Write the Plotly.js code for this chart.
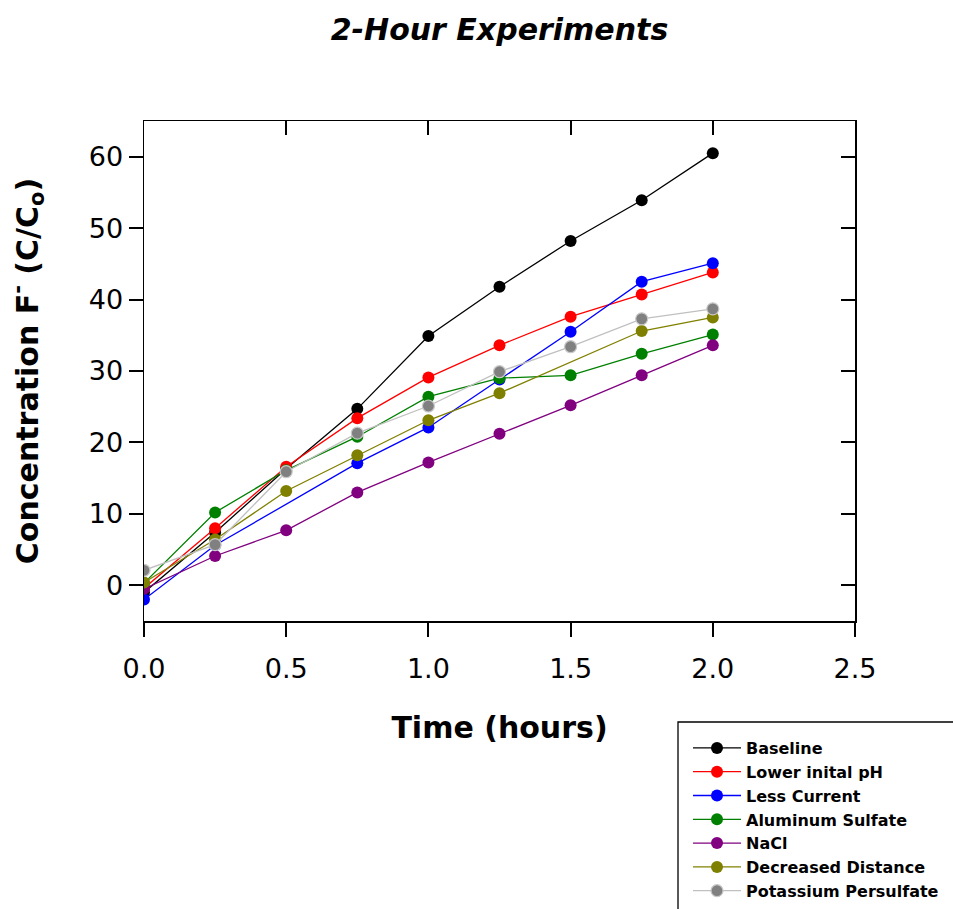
<!DOCTYPE html>
<html>
<head>
<meta charset="utf-8">
<script src="https://cdn.plot.ly/plotly-3.0.1.min.js"></script>
<style>html,body{margin:0;padding:0;background:#fff;}#chart{width:953px;height:909px;}</style>
</head>
<body>
<div id="chart"></div>
<script>
const times = [0, 0.25, 0.5, 0.75, 1.0, 1.25, 1.5, 1.75, 2.0];
const baseline = [-1.0, 7.4, 16.3, 24.7, 34.9, 41.8, 48.2, 53.9, 60.5];
const lowerPH = [-0.4, 8.0, 16.6, 23.4, 29.1, 33.6, 37.6, 40.7, 43.8];
const lessCurrent = [-2.0, 5.6, null, 17.1, 22.1, 28.8, 35.5, 42.5, 45.1];
const aluminumSulfate = [0.3, 10.2, 16.1, 20.8, 26.4, 29.0, 29.4, 32.4, 35.1];
const nacl = [-0.5, 4.1, 7.7, 13.0, 17.2, 21.2, 25.2, 29.4, 33.6];
const decreasedDistance = [0.4, 6.4, 13.2, 18.2, 23.1, 26.9, null, 35.6, 37.5];
const potassiumPersulfate = [2.1, 5.7, 15.9, 21.3, 25.1, 29.9, 33.4, 37.3, 38.7];

const seriesNames = ["Baseline", "Lower inital pH", "Less Current", "Aluminum Sulfate", "NaCl", "Decreased Distance", "Potassium Persulfate"];
const seriesValues = [baseline, lowerPH, lessCurrent, aluminumSulfate, nacl, decreasedDistance, potassiumPersulfate];
const lineColors = ["#000000", "#ff0000", "#0000ff", "#008000", "#800080", "#808000", "#c0c0c0"];
const markerColors = ["#000000", "#ff0000", "#0000ff", "#008000", "#800080", "#808000", "#808080"];

const yTicks = [0, 10, 20, 30, 40, 50, 60];
const xTicks = [0, 0.5, 1.0, 1.5, 2.0, 2.5];
const xTickText = ["0.0", "0.5", "1.0", "1.5", "2.0", "2.5"];

const FONT = "DejaVu Sans, Liberation Sans, Arial, sans-serif";

const traces = seriesValues.map((vals, i) => ({
  x: times, y: vals, name: seriesNames[i], type: "scatter", mode: "lines+markers",
  connectgaps: true,
  line: {color: lineColors[i], width: 1.3},
  marker: {color: markerColors[i], size: 12,
    line: {color: i === 6 ? "#c8c8c8" : markerColors[i], width: i === 6 ? 1.2 : 0}}
}));
traces.push({x: [], y: [], xaxis: "x2", yaxis: "y2", showlegend: false, hoverinfo: "skip", type: "scatter", mode: "markers"});

const layout = {
  width: 953, height: 909,
  paper_bgcolor: "#ffffff", plot_bgcolor: "#ffffff",
  margin: {l: 144, r: 98, t: 121, b: 288, autoexpand: false},
  font: {family: FONT, color: "#000"},
  title: {text: "<b><i>2-Hour Experiments</i></b>", font: {family: FONT, size: 30, color: "#000"},
    x: 0.5, xref: "paper", xanchor: "center", y: 1 - 29/909, yref: "container", yanchor: "middle"},
  xaxis: {range: [0, 2.5], tickvals: xTicks, ticktext: xTickText, ticks: "outside", ticklen: 14, tickwidth: 2,
    tickcolor: "#000", showline: true, linecolor: "#000", linewidth: 1.5, showgrid: false, zeroline: false,
    tickfont: {family: FONT, size: 27, color: "#000"}, automargin: false, ticklabelstandoff: 9,
    title: {text: "<b>Time (hours)</b>", font: {family: FONT, size: 30, color: "#000"}, standoff: 34}},
  yaxis: {range: [-5, 65], tickvals: yTicks, ticks: "outside", ticklen: 14, tickwidth: 2,
    tickcolor: "#000", showline: true, linecolor: "#000", linewidth: 1.5, showgrid: false, zeroline: false,
    tickfont: {family: FONT, size: 27, color: "#000"}, automargin: false,
    title: {text: "<b>Concentration F<sup>-</sup> (C/C<sub>o</sub>)</b>", font: {family: FONT, size: 30, color: "#000"}, standoff: 41}},
  xaxis2: {overlaying: "x", side: "top", anchor: "y", range: [0, 2.5], tickvals: xTicks, ticks: "inside", ticklen: 14, tickwidth: 2,
    tickcolor: "#000", showline: true, linecolor: "#000", linewidth: 1.5, showgrid: false, zeroline: false, showticklabels: false},
  yaxis2: {overlaying: "y", side: "right", anchor: "x", range: [-5, 65], tickvals: yTicks, ticks: "inside", ticklen: 14, tickwidth: 2,
    tickcolor: "#000", showline: true, linecolor: "#000", linewidth: 1.5, showgrid: false, zeroline: false, showticklabels: false},
  showlegend: true,
  legend: {xref: "container", yref: "container", x: 688/953, y: 1 - 731/909, xanchor: "left", yanchor: "top",
    bgcolor: "rgba(0,0,0,0)", borderwidth: 0, font: {family: FONT, size: 16, color: "#000", weight: "bold"},
    itemwidth: 48, tracegroupgap: 0},
  shapes: [{type: "rect", xref: "paper", yref: "paper", x0: (678-144)/711, x1: 1.5, y0: (621-722)/500, y1: -1.0,
    line: {color: "#000", width: 1.3}, fillcolor: "rgba(0,0,0,0)", layer: "below"}]
};

Plotly.newPlot("chart", traces, layout, {staticPlot: true, displayModeBar: false});
</script>
</body>
</html>
